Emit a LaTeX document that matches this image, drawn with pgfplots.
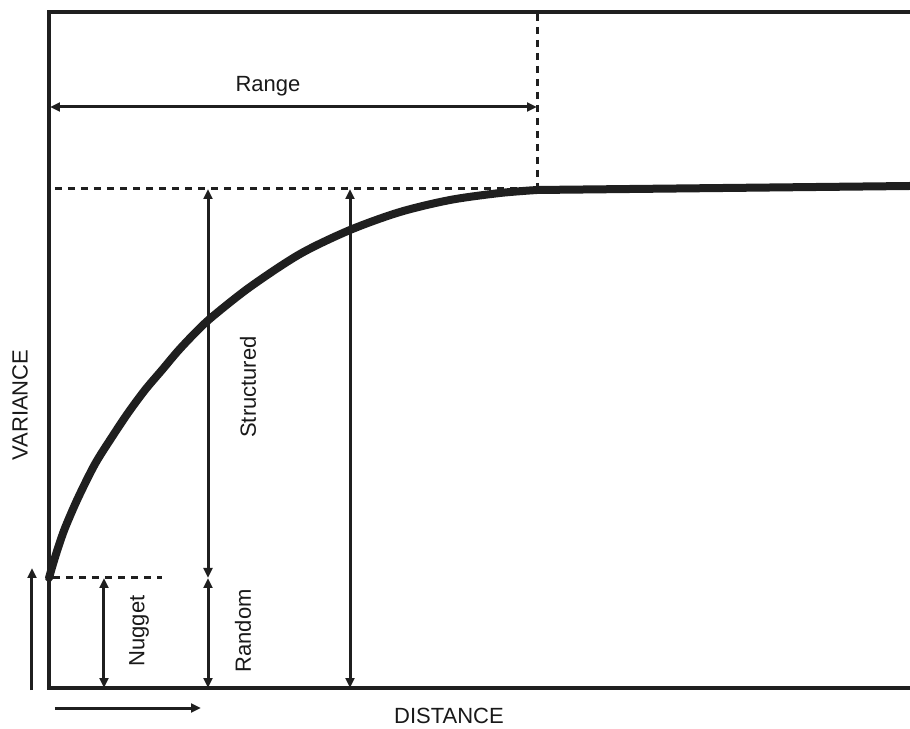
\documentclass[border=0pt]{standalone}
\usepackage{pgfplots}
\pgfplotsset{compat=1.18}
\usepackage{fontspec}
\setmainfont{Liberation Sans}
\usetikzlibrary{arrows.meta}
\begin{document}
\begin{tikzpicture}
\tikzset{tip/.style={-{Triangle[length=5pt,width=4.4pt]}},
 tips/.style={{Triangle[length=5pt,width=4.4pt]}-{Triangle[length=5pt,width=4.4pt]}},
 arr/.style={line width=1.5pt, color=black!88},
 dsh/.style={line width=1.5pt,dash pattern=on 3.5pt off 3pt, color=black!88},
 lab/.style={font=\fontsize{11}{13}\selectfont, text=black!90}}
\begin{axis}[name=ax, scale only axis, width=430.5pt, height=338pt,
  xmin=0, xmax=861, ymin=0, ymax=676, hide axis, clip=false]
% semivariogram curve
\addplot[line width=4pt, smooth, line cap=round, color=black!88] coordinates {
(0,110) (4,124) (9,140) (16,160) (29,190) (46,224) (63,251) (79,275) (96,298) (113,318) (129,337)
(146,355) (163,371) (201,401) (251,434) (301,458) (351,476) (401,488) (451,495) (488,498)};
\addplot[line width=4pt, color=black!88] coordinates {(488,498) (861,502)};
% frame (left, top, bottom)
\draw[line width=1.8pt, color=black!88] (axis cs:861,676) -- (axis cs:0,676) -- (axis cs:0,0) -- (axis cs:861,0);
% dashed guides
\draw[dsh] (axis cs:6,499) -- (axis cs:488,499);
\draw[dsh] (axis cs:488,674) -- (axis cs:488,499);
\draw[dsh] (axis cs:4,110) -- (axis cs:113,110);
% range
\draw[arr,tips] (axis cs:1,581) -- (axis cs:488,581);
\node[lab] at (axis cs:219,602) {Range};
% nugget
\draw[arr,tips] (axis cs:55,110) -- (axis cs:55,0);
\node[lab,rotate=90] at (axis cs:90,57) {Nugget};
% structured / random
\draw[arr,tips] (axis cs:159,499) -- (axis cs:159,110);
\draw[arr,tips] (axis cs:159,110) -- (axis cs:159,0);
\node[lab,rotate=90] at (axis cs:199,301) {Structured};
\node[lab,rotate=90] at (axis cs:194,57) {Random};
% total sill
\draw[arr,tips] (axis cs:301,499) -- (axis cs:301,0);
% axis arrows
\draw[arr,tip] (axis cs:-17,-2) -- (axis cs:-17,120);
\draw[arr,tip] (axis cs:6,-20) -- (axis cs:152,-20);
\node[lab,rotate=90] at (axis cs:-29,283) {VARIANCE};
\node[lab] at (axis cs:400,-28) {DISTANCE};
\end{axis}
\pgfresetboundingbox
\path[use as bounding box] ([xshift=-24.5pt,yshift=-20pt]ax.south west) rectangle ([yshift=6pt]ax.north east);
\end{tikzpicture}
\end{document}
